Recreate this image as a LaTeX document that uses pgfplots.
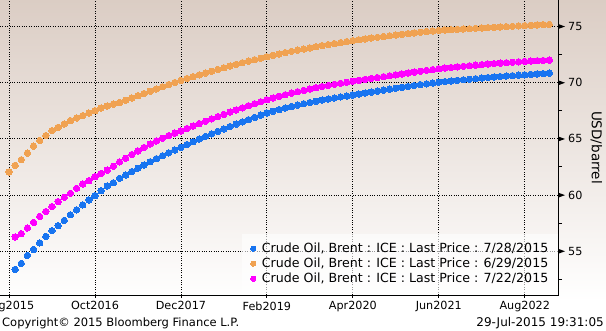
\documentclass[border=0pt]{standalone}
\usepackage{pgfplots}
\usepackage{pgfplotstable}
\pgfplotsset{compat=1.18}
\usepackage{fontspec}
\setmainfont{DejaVu Sans}
\definecolor{cblue}{RGB}{24,116,240}
\definecolor{corange}{RGB}{240,162,82}
\definecolor{cmag}{RGB}{255,0,255}
\definecolor{bgtop}{RGB}{219,205,196}
\pgfplotstableread{
m blue orange magenta
0 nan 62.05 nan
1 53.38 62.64 56.27
2 53.91 63.14 56.56
3 54.62 63.73 57.06
4 55.15 64.35 57.56
5 55.74 64.85 58.09
6 56.32 65.29 58.53
7 56.83 65.73 58.97
8 57.27 66.02 59.41
9 57.74 66.32 59.80
10 58.24 66.62 60.15
11 58.68 66.85 60.59
12 59.12 67.06 60.98
13 59.56 67.29 61.27
14 59.94 67.50 61.62
15 60.38 67.74 61.92
16 60.80 67.91 62.21
17 61.09 68.09 62.56
18 61.48 68.23 62.94
19 61.78 68.43 63.27
20 62.08 68.63 63.60
21 62.38 68.83 63.92
22 62.67 69.03 64.23
23 62.96 69.23 64.53
24 63.23 69.43 64.80
25 63.49 69.63 65.05
26 63.75 69.82 65.28
27 64.00 70.01 65.50
28 64.24 70.20 65.70
29 64.49 70.37 65.92
30 64.74 70.53 66.14
31 64.98 70.69 66.35
32 65.21 70.85 66.56
33 65.44 71.01 66.77
34 65.66 71.17 66.97
35 65.88 71.32 67.17
36 66.09 71.47 67.37
37 66.30 71.62 67.56
38 66.50 71.77 67.75
39 66.70 71.91 67.94
40 66.90 72.04 68.12
41 67.10 72.17 68.30
42 67.30 72.30 68.47
43 67.45 72.43 68.63
44 67.60 72.55 68.78
45 67.74 72.67 68.92
46 67.87 72.78 69.06
47 68.00 72.89 69.19
48 68.12 72.99 69.31
49 68.23 73.09 69.43
50 68.34 73.19 69.54
51 68.44 73.29 69.65
52 68.54 73.38 69.75
53 68.63 73.47 69.85
54 68.72 73.56 69.94
55 68.80 73.65 70.03
56 68.88 73.73 70.12
57 68.97 73.81 70.20
58 69.06 73.89 70.29
59 69.15 73.96 70.37
60 69.24 74.03 70.45
61 69.33 74.10 70.53
62 69.42 74.17 70.61
63 69.50 74.24 70.69
64 69.58 74.30 70.77
65 69.66 74.36 70.85
66 69.74 74.42 70.93
67 69.82 74.48 71.01
68 69.89 74.54 71.09
69 69.96 74.59 71.16
70 70.03 74.64 71.23
71 70.09 74.68 71.29
72 70.15 74.71 71.35
73 70.20 74.74 71.40
74 70.25 74.77 71.45
75 70.30 74.80 71.50
76 70.35 74.83 71.55
77 70.40 74.86 71.60
78 70.45 74.89 71.65
79 70.50 74.92 71.69
80 70.54 74.95 71.73
81 70.58 74.98 71.77
82 70.62 75.01 71.81
83 70.66 75.04 71.85
84 70.69 75.07 71.88
85 70.73 75.10 71.91
86 70.77 75.13 71.94
87 70.80 75.16 71.97
88 70.84 75.18 72.00
}\curves
\begin{document}
\begin{tikzpicture}[x=1pt,y=1pt]
\clip (0,0) rectangle (606,331);
\fill[white] (0,0) rectangle (606,331);
\shade[top color=bgtop, bottom color=white] (0,30) rectangle (606,331);
\begin{axis}[
  at={(0pt,36pt)}, anchor=south west,
  width=558.5pt, height=295pt, scale only axis,
  xmin=-1.47, xmax=89.5, ymin=51.1, ymax=77.35,
  axis x line*=bottom, axis y line*=right,
  axis line style={-, black, line width=0.9pt},
  xtick={0,14,28,42,56,70,84},
  xticklabels={Aug2015,Oct2016,Dec2017,Feb2019,Apr2020,Jun2021,Aug2022},
  ytick={55,60,65,70,75},
  minor ytick={52.5,57.5,62.5,67.5,72.5},
  ytick pos=right, yticklabel pos=right,
  xtick pos=bottom,
  tick align=outside,
  major tick length=3pt, minor tick length=3.5pt,
  major y tick style={draw=none},
  every tick/.style={black, line width=0.8pt},
  grid=major,
  major grid style={black, line width=0.8pt, dash pattern=on 1pt off 1.4pt},
  /pgf/number format/assume math mode=true,
  ticklabel style={font=\fontsize{11.2}{13}\selectfont, text=black},
  yticklabel={\tikz[baseline=-3.9pt]\fill (0,2.3pt)--(6.3pt,0)--(0,-2.3pt)--cycle;\hspace{3.2pt}\pgfmathprintnumber{\tick}},
  yticklabel style={anchor=west, inner sep=0pt, xshift=-3pt},
  ylabel={USD/barrel},
  ylabel style={at={(axis description cs:1.068,0.5)}, rotate=180, anchor=center, font=\fontsize{13.5}{16}\selectfont},
  legend style={at={(1,0)}, anchor=south east, yshift=1.5pt,
    fill=white, fill opacity=0.6, text opacity=1, draw=none,
    font=\fontsize{12.6}{15}\selectfont, row sep=0pt,
    inner xsep=8pt, inner ysep=7pt},
  legend cell align=left,
  legend image code/.code={\draw[#1, fill opacity=1, draw opacity=1, mark size=2.6pt] plot coordinates {(0pt,0pt)}; \path (-3pt,0pt) (6.5pt,0pt);},
]
\addplot[only marks, mark=*, mark size=3.2pt, mark options={draw=cblue, fill=cblue, line width=0pt}] table[x=m, y=blue] {\curves};
\addlegendentry{Crude Oil, Brent : ICE : Last Price : 7/28/2015}
\addplot[only marks, mark=*, mark size=3.2pt, mark options={draw=corange, fill=corange, line width=0pt}] table[x=m, y=orange] {\curves};
\addlegendentry{Crude Oil, Brent : ICE : Last Price : 6/29/2015}
\addplot[only marks, mark=*, mark size=3.2pt, mark options={draw=cmag, fill=cmag, line width=0pt}] table[x=m, y=magenta] {\curves};
\addlegendentry{Crude Oil, Brent : ICE : Last Price : 7/22/2015}
\end{axis}
\node[anchor=west, inner sep=0pt, font=\fontsize{11.5}{13}\selectfont] at (2,8) {Copyright© 2015 Bloomberg Finance L.P.};
\node[anchor=east, inner sep=0pt, font=\fontsize{12}{14}\selectfont] at (604,8) {29-Jul-2015 19:31:05};
\end{tikzpicture}
\end{document}
